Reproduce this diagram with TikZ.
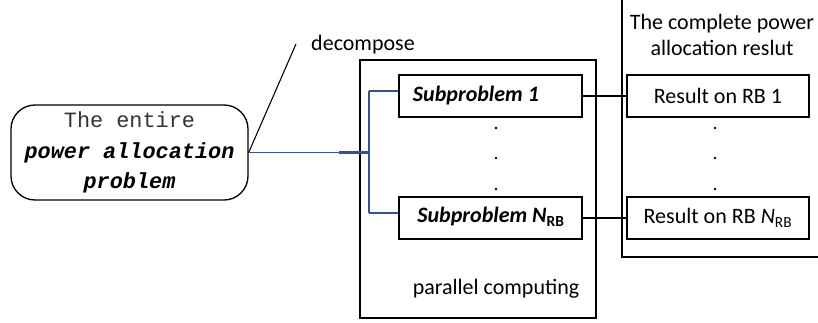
\documentclass[tikz,border=0pt]{standalone}
\usepackage{fontspec}
\setmainfont{Carlito}
\newfontfamily\monof{Liberation Mono}
\definecolor{linkblue}{RGB}{47,85,151}
\begin{document}
\begin{tikzpicture}[x=0.75pt,y=-0.75pt,
  every node/.style={font=\fontsize{16.5}{19}\selectfont, inner sep=0pt},
  frame/.style={draw, line width=1pt},
  subbox/.style={frame, minimum width=137.25pt, minimum height=31.5pt},
  resbox/.style={frame, minimum width=136.5pt, minimum height=31.5pt},
  link/.style={draw=linkblue, line width=0.8pt},
  wire/.style={draw, line width=1pt},
  dotmark/.style={circle, fill, minimum size=2pt}]
\useasboundingbox (0,0) rectangle (818,322);

% whole problem
\node[frame, rounded corners=18pt, minimum width=177.75pt, minimum height=71.25pt,
      align=center, font=\monof\fontsize{16.4}{23}\selectfont] (whole) at (129.5,152.5)
  {\textcolor{black!80}{The entire}\\ \textbf{\textit{power allocation}}\\ \textbf{\textit{problem}}};

% parallel computing frame
\node[frame, minimum width=177pt, minimum height=193.5pt] (par) at (478,189) {};
\node (partxt) at (496,289) {parallel computing};

% subproblems
\node[subbox] (s1) at (490.5,96) {};
\node (s1t) at (476,96) {\textbf{\textit{Subproblem 1}}};
\node[subbox] (sN) at (490.5,218) {};
\node (sNt) at (491,217) {\textbf{\textit{Subproblem N}}\textsubscript{\textbf{RB}}};

% results
\node[resbox] (r1) at (718,96) {Result on RB 1};
\node[resbox] (rN) at (718,218) {Result on RB \textit{N}\textsubscript{RB}};

% result frame, partly outside the page
\coordinate (rtop) at (622,0);
\coordinate (rcorner) at (622,257);
\coordinate (rright) at (818,257);
\draw[wire] (rtop) -- (rcorner) -- (rright);
\node[align=center, font=\fontsize{16.5}{19.5}\selectfont] (restxt) at (722,35)
  {The complete power\\ allocation reslut};

% vertical dots
\foreach \yy [count=\i] in {128,158,189} {
  \node[dotmark] (ld\i) at (496,\yy) {};
  \node[dotmark] (rd\i) at (715,\yy) {};
}

% decompose label and its leader
\node (dec) at (363,45) {decompose};
\coordinate (dectip) at (296,44);
\draw[wire, line width=0.8pt] (whole.east) -- (dectip);

% distribution lines
\coordinate (split) at (369,152.5);
\coordinate (splitin) at (339,152.5);
\coordinate (b1) at (369,91);
\coordinate (bN) at (369,213);
\draw[link] (whole.east) -- (split);
\draw[link, line width=1.8pt] (splitin) -- (split);
\draw[link] (b1) -- (bN);
\draw[link] (b1) -- (s1.west |- b1);
\draw[link] (bN) -- (sN.west |- bN);

% results links
\draw[wire] (s1.east) -- (r1.west);
\draw[wire] (sN.east) -- (rN.west);
\end{tikzpicture}
\end{document}
